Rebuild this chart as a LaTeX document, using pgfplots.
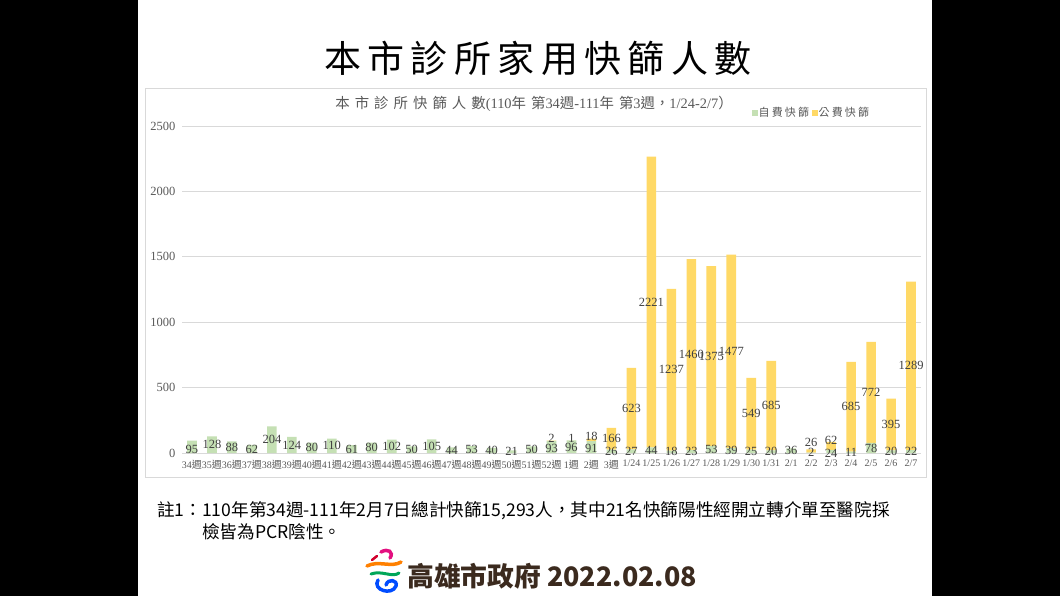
\documentclass[border=0pt]{standalone}
\usepackage{pgfplots}
\usepackage{pgfplotstable}
\pgfplotsset{compat=1.18}
\usepackage{fontspec}
\setmainfont{Liberation Serif}
\newfontfamily\cjk{Noto Sans CJK TC}
\newfontfamily\cjkls[LetterSpace=35]{Noto Sans CJK TC}
\newfontfamily\cjkleg[LetterSpace=20]{Noto Sans CJK TC}
\definecolor{gr}{HTML}{C5E0B4}
\definecolor{ye}{HTML}{FFD966}
\definecolor{txt}{HTML}{595959}
\definecolor{lab}{HTML}{404040}
\definecolor{gridc}{HTML}{D9D9D9}
\definecolor{brown}{HTML}{3B2A1E}
\newcommand\W[1]{#1{\cjk 週}}
\newcommand\tc[1]{\makebox[43.4bp]{#1}}

\pgfplotstableread{
x g y
0 95 0
1 128 0
2 88 0
3 62 0
4 204 0
5 124 0
6 80 0
7 110 0
8 61 0
9 80 0
10 102 0
11 50 0
12 105 0
13 44 0
14 53 0
15 40 0
16 21 0
17 50 0
18 93 2
19 96 1
20 91 18
21 26 166
22 27 623
23 44 2221
24 18 1237
25 23 1460
26 53 1375
27 39 1477
28 25 549
29 20 685
30 36 0
31 2 26
32 24 62
33 11 685
34 78 772
35 20 395
36 22 1289
}\data

\pgfplotstableread{
x y lab
0 30 95
1 64 128
2 44 88
3 31 62
4 102 204
5 62 124
6 40 80
7 55 110
8 30.5 61
9 40 80
10 51 102
11 25 50
12 52.5 105
13 22 44
14 26.5 53
15 20 40
16 10.5 21
17 25 50
18 38 93
19 40 96
20 36 91
21 13 26
22 13.5 27
23 22 44
24 9 18
25 11.5 23
26 26.5 53
27 19.5 39
28 12.5 25
29 10 20
30 18 36
31 2 2
32 0 24
33 5.5 11
34 39 78
35 10 20
36 11 22
18 112 2
19 114 1
20 124 18
21 112 166
22 338.5 623
23 1154.5 2221
24 636.5 1237
25 753 1460
26 740.5 1375
27 777.5 1477
28 299.5 549
29 362.5 685
31 78 26
32 100 62
33 353.5 685
34 464 772
35 217.5 395
36 666.5 1289
}\labels

\begin{document}
\begin{tikzpicture}
% slide background
\fill[black] (0bp,0bp) rectangle (1060bp,-596bp);
\fill[white] (138bp,0bp) rectangle (932bp,-596bp);
% main title
\node[font=\cjk\fontsize{37bp}{40bp}\selectfont, text=black, inner sep=0pt] at (538bp,-58bp)
  {\tc{本}\tc{市}\tc{診}\tc{所}\tc{家}\tc{用}\tc{快}\tc{篩}\tc{人}\tc{數}};
% chart frame
\draw[gridc, line width=0.8bp] (145bp,-88bp) rectangle (926bp,-477bp);
% chart title
\node[font=\fontsize{14.4bp}{16bp}\selectfont, text=txt, inner sep=0pt] at (534bp,-104bp)
  {{\cjkls 本市診所快篩人數}(110{\cjkls 年第}34{\cjkls 週}-111{\cjkls 年第}3{\cjkls 週}{\cjk ，}1/24-2/7{\cjk ）}};

\begin{axis}[
  at={(182bp,-453bp)}, anchor=south west,
  scale only axis, width=739bp, height=327bp,
  ybar stacked, bar width=0.48,
  xmin=-0.5, xmax=36.5, ymin=0, ymax=2500,
  ytick={0,500,1000,1500,2000,2500},
  xtick={0,...,36},
  xticklabels={\W{34},\W{35},\W{36},\W{37},\W{38},\W{39},\W{40},\W{41},\W{42},\W{43},\W{44},\W{45},\W{46},\W{47},\W{48},\W{49},\W{50},\W{51},\W{52},\W{1},\W{2},\W{3},1/24,1/25,1/26,1/27,1/28,1/29,1/30,1/31,2/1,2/2,2/3,2/4,2/5,2/6,2/7},
  ymajorgrids, grid style={gridc, line width=0.8bp},
  axis line style={draw=none},
  major tick length=0pt,
  /pgf/number format/assume math mode=true,
  /pgf/number format/1000 sep={},
  yticklabel style={text=txt, font=\fontsize{12.5bp}{14bp}\selectfont, xshift=-3bp},
  xticklabel style={text=txt, font=\fontsize{10bp}{11bp}\selectfont, inner sep=0pt, yshift=-7bp},
  legend columns=2,
  legend style={at={(0.7713,1.0398)}, anchor=west, draw=none, fill=none, inner sep=0pt,
     font=\cjkleg\fontsize{11bp}{12bp}\selectfont, text=txt,
     nodes={inner sep=1bp},
     /tikz/every even column/.append style={column sep=2bp}},
  legend image code/.code={\fill[#1] (0bp,-2.7bp) rectangle (5.4bp,2.7bp);},
]
\addplot[fill=gr, draw=none] table[x=x, y=g] {\data};
\addplot[fill=ye, draw=none] table[x=x, y=y] {\data};
\legend{自費快篩,公費快篩}
\end{axis}

\begin{axis}[
  at={(182bp,-453bp)}, anchor=south west,
  scale only axis, width=739bp, height=327bp,
  xmin=-0.5, xmax=36.5, ymin=0, ymax=2500,
  hide axis, clip=false,
]
\addplot[draw=none, mark=none, nodes near coords, point meta=explicit symbolic,
  nodes near coords style={anchor=center, inner sep=0pt, text=lab, font=\fontsize{12.5bp}{13bp}\selectfont}]
  table[x=x, y=y, meta=lab] {\labels};
\end{axis}

% note
\node[anchor=west, font=\cjk\fontsize{17.6bp}{19bp}\selectfont, text=black, inner sep=0pt] at (157bp,-511bp)
  {註1：110年第34週-111年2月7日總計快篩15,293人，其中21名快篩陽性經開立轉介單至醫院採};
\node[anchor=west, font=\cjk\fontsize{17.6bp}{19bp}\selectfont, text=black, inner sep=0pt] at (202bp,-532bp)
  {檢皆為PCR陰性。};
% logo
\draw[line width=3.5bp, magenta!80!purple, line cap=round] (381bp,-552bp) .. controls (388bp,-548bp) and (394bp,-552bp) .. (390bp,-558bp);
\draw[line width=3.5bp, orange, line cap=round] (367bp,-566bp) .. controls (378bp,-560bp) and (392bp,-568bp) .. (401bp,-562bp);
\draw[line width=3bp, teal!70!green, line cap=round] (371bp,-574bp) .. controls (382bp,-570bp) and (392bp,-578bp) .. (399bp,-573bp);
\draw[line width=3.5bp, blue!70!cyan, line cap=round] (378bp,-580bp) .. controls (372bp,-590bp) and (392bp,-596bp) .. (396bp,-586bp) .. controls (398bp,-580bp) and (388bp,-578bp) .. (386bp,-585bp);
\draw[line width=2.5bp, purple!70!red, line cap=round] (372bp,-560bp) -- (377bp,-556bp);
% footer
\node[anchor=west, font=\cjk\bfseries\fontsize{26.8bp}{29bp}\selectfont, text=brown, inner sep=0pt] at (407bp,-576bp)
  {高雄市政府 2022.02.08};
\end{tikzpicture}
\end{document}
